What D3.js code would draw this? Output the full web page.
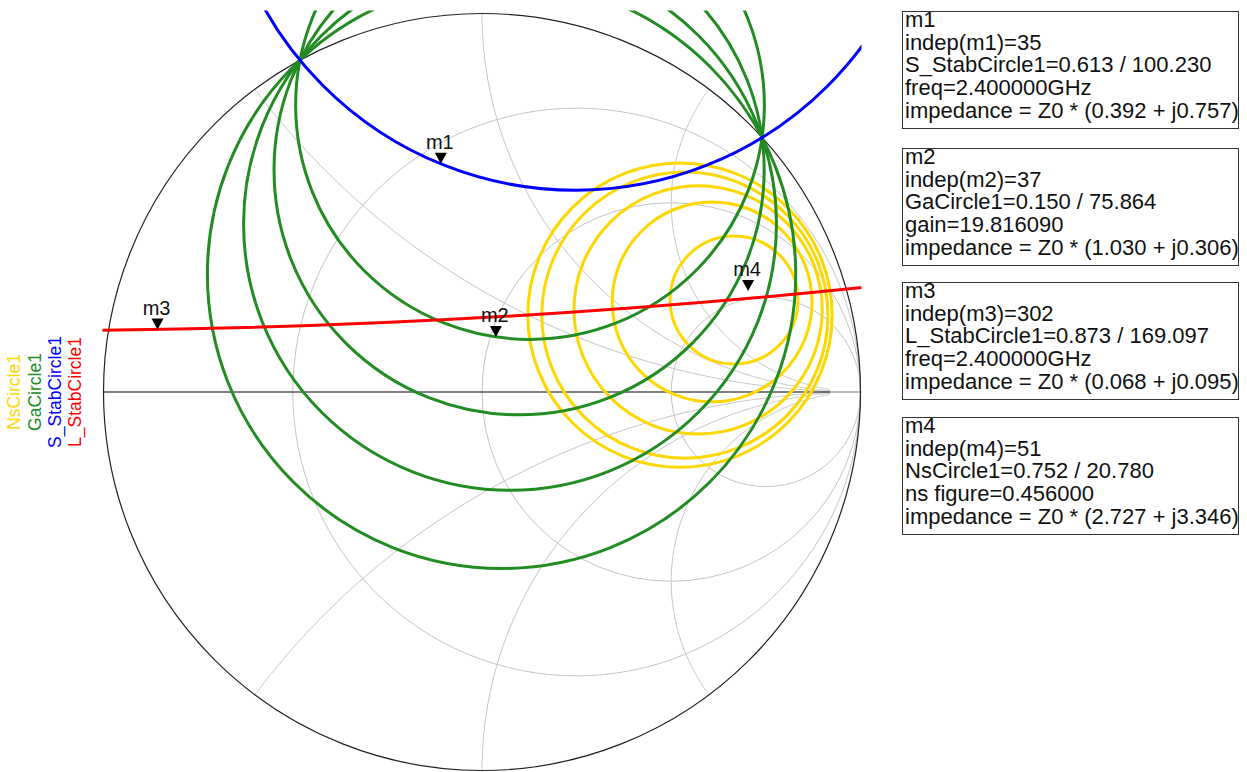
<!DOCTYPE html>
<html>
<head>
<meta charset="utf-8">
<script src="https://cdn.jsdelivr.net/npm/d3@7"></script>
<style>
  body { margin: 0; background: #fff; }
  svg { display: block; }
  text { font-family: "Liberation Sans", Arial, sans-serif; }
</style>
</head>
<body>
<svg id="chart" width="1247" height="772"></svg>
<script>
// Smith chart grid (normalized impedance values)
const gridResistance = [1 / 3, 1, 3];
const gridReactance = [0.5, 1, 2, -0.5, -1, -2];
const gridRMax = 24;

// Traces as circles in the reflection-coefficient plane: centre (re, im), radius r
const nsCircles = [
  { re: 0.666, im: 0.243, r: 0.169 },
  { re: 0.608, im: 0.238, r: 0.264 },
  { re: 0.571, im: 0.217, r: 0.328 },
  { re: 0.536, im: 0.203, r: 0.378 },
  { re: 0.523, im: 0.203, r: 0.402 }
];
const gaCircles = [
  { re: 0.1268, im: 0.7581, r: 0.6192 },
  { re: 0.0980, im: 0.5871, r: 0.6475 },
  { re: 0.0740, im: 0.4441, r: 0.7039 },
  { re: 0.0517, im: 0.3110, r: 0.7772 }
];
const sStabCircles = [{ re: 0.247, im: 1.476, r: 0.943 }];
const lStabCircles = [{ re: -1.226, im: 21.99, r: 21.828 }];

const traceNames = ["NsCircle1", "GaCircle1", "S_StabCircle1", "L_StabCircle1"];
const traceColors = ["#ffd700", "#228b22", "#0000ff", "#ff0000"];
const traceData = [nsCircles, gaCircles, sStabCircles, lStabCircles];

// Markers: |Gamma| / angle (deg)
const markerNames = ["m1", "m2", "m3", "m4"];
const markerMag = [0.613, 0.150, 0.873, 0.752];
const markerAng = [100.230, 75.864, 169.097, 20.780];
const markerText = [
  ["m1", "indep(m1)=35", "S_StabCircle1=0.613 / 100.230", "freq=2.400000GHz", "impedance = Z0 * (0.392 + j0.757)"],
  ["m2", "indep(m2)=37", "GaCircle1=0.150 / 75.864", "gain=19.816090", "impedance = Z0 * (1.030 + j0.306)"],
  ["m3", "indep(m3)=302", "L_StabCircle1=0.873 / 169.097", "freq=2.400000GHz", "impedance = Z0 * (0.068 + j0.095)"],
  ["m4", "indep(m4)=51", "NsCircle1=0.752 / 20.780", "ns figure=0.456000", "impedance = Z0 * (2.727 + j3.346)"]
];
const boxTops = [11, 148, 282, 417];

const svg = d3.select("#chart");
const cx0 = 482, cy0 = 392, R0 = 378.5;
const x = d3.scaleLinear().domain([-1, 1]).range([cx0 - R0, cx0 + R0]);
const y = d3.scaleLinear().domain([-1, 1]).range([cy0 + R0, cy0 - R0]);
const rad = v => x(v) - x(0);

// z -> Gamma
function gamma(r, xv) {
  const dr = r + 1, den = dr * dr + xv * xv;
  return [((r - 1) * dr + xv * xv) / den, (xv * dr - (r - 1) * xv) / den];
}

svg.append("clipPath").attr("id", "plotClip")
  .append("rect")
  .attr("x", x(-1) - 1).attr("y", y(1) - 3)
  .attr("width", x(1) - x(-1) + 2).attr("height", y(-1) - y(1) + 5);

const grid = svg.append("g");
// resistance circles
grid.selectAll("circle.r").data(gridResistance).join("circle")
  .attr("cx", d => x(d / (1 + d))).attr("cy", y(0)).attr("r", d => rad(1 / (1 + d)))
  .attr("fill", "none").attr("stroke", "#c4c4c4").attr("stroke-width", 1);
// reactance arcs
const line = d3.line().x(p => x(p[0])).y(p => y(p[1]));
const rSteps = d3.range(0, 401).map(i => gridRMax * Math.pow(i / 400, 3));
grid.selectAll("path.x").data(gridReactance).join("path")
  .attr("d", xv => line(rSteps.map(r => gamma(r, xv))))
  .attr("fill", "none").attr("stroke", "#c4c4c4").attr("stroke-width", 1);
// real axis
grid.append("path").attr("d", line([[gamma(gridRMax, 0)[0], 0], [1, 0]]))
  .attr("stroke", "#bbbbbb").attr("stroke-width", 2);
grid.append("path").attr("d", line([[-1, 0], [gamma(gridRMax, 0)[0], 0]]))
  .attr("stroke", "#000").attr("stroke-width", 1);
// outer circle
grid.append("circle").attr("cx", x(0)).attr("cy", y(0)).attr("r", rad(1))
  .attr("fill", "none").attr("stroke", "#222").attr("stroke-width", 1.2);

// traces
const traces = svg.append("g").attr("clip-path", "url(#plotClip)");
traceData.forEach((circles, i) => {
  traces.append("g").selectAll("circle").data(circles).join("circle")
    .attr("cx", d => x(d.re)).attr("cy", d => y(d.im)).attr("r", d => rad(d.r))
    .attr("fill", "none").attr("stroke", traceColors[i]).attr("stroke-width", 3);
});

// markers
const mk = svg.append("g");
markerNames.forEach((name, i) => {
  const a = markerAng[i] * Math.PI / 180;
  const px = x(markerMag[i] * Math.cos(a)), py = y(markerMag[i] * Math.sin(a));
  mk.append("path")
    .attr("d", `M${px},${py} L${px - 6},${py - 11} L${px + 6},${py - 11} Z`)
    .attr("fill", "#000");
  mk.append("text").attr("x", px - 1).attr("y", py - 15)
    .attr("text-anchor", "middle").attr("font-size", 20).attr("fill", "#111").text(name);
});

// legend (rotated trace names)
const legX = [20, 41, 60.5, 80.5];
traceNames.forEach((n, i) => {
  svg.append("text")
    .attr("transform", `translate(${legX[i]},${cy0}) rotate(-90)`)
    .attr("text-anchor", "middle").attr("font-size", 17.5)
    .attr("fill", traceColors[i]).text(n);
});

// marker readout boxes
markerText.forEach((lines, i) => {
  const g = svg.append("g").attr("transform", `translate(902,${boxTops[i]})`);
  g.append("rect").attr("x", 0.5).attr("y", 0.5).attr("width", 336).attr("height", 117)
    .attr("fill", "#fff").attr("stroke", "#333").attr("stroke-width", 1);
  g.selectAll("text").data(lines).join("text")
    .attr("x", 3).attr("y", (d, j) => 16 + j * 22.7)
    .attr("font-size", 22).attr("fill", "#111").text(d => d);
});
</script>
</body>
</html>
